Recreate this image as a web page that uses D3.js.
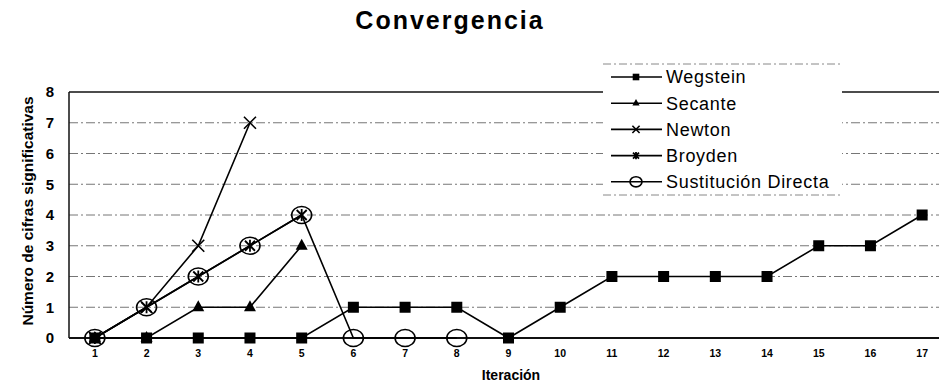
<!DOCTYPE html>
<html>
<head>
<meta charset="utf-8">
<script src="https://cdn.jsdelivr.net/npm/d3@7.9.0/dist/d3.min.js"></script>
<style>
  body { margin: 0; background: #fff; }
  svg { display: block; font-family: "Liberation Sans", Arial, sans-serif; }
</style>
</head>
<body>
<svg id="chart" width="939" height="385"></svg>
<script>
// data
const iteraciones = d3.range(1, 18);
const yTicks = [0, 1, 2, 3, 4, 5, 6, 7, 8];
const wegstein = [0, 0, 0, 0, 0, 1, 1, 1, 0, 1, 2, 2, 2, 2, 3, 3, 4];
const secante = [0, 0, 1, 1, 3];
const newton = [0, 1, 3, 7];
const broyden = [0, 1, 2, 3, 4];
const sustitucion = [0, 1, 2, 3, 4, 0, 0, 0];

const series = [
  { name: 'Wegstein', values: wegstein, marker: 'square' },
  { name: 'Secante', values: secante, marker: 'triangle' },
  { name: 'Newton', values: newton, marker: 'x' },
  { name: 'Broyden', values: broyden, marker: 'star' },
  { name: 'Sustitución Directa', values: sustitucion, marker: 'circle' },
];

const svg = d3.select('#chart');
const plotLeft = 69, plotRight = 948, plotTop = 92, plotBottom = 338;

const x = d3.scaleBand().domain(iteraciones).range([plotLeft, plotRight]);
const y = d3.scaleLinear().domain([0, 8]).range([plotBottom, plotTop]);
const cx = (i) => x(i) + x.bandwidth() / 2;

// gridlines
svg.append('g')
  .selectAll('line')
  .data(yTicks.filter((d) => d > 0 && d < 8))
  .join('line')
  .attr('x1', plotLeft).attr('x2', 939)
  .attr('y1', (d) => y(d)).attr('y2', (d) => y(d))
  .attr('stroke', '#666')
  .attr('stroke-width', 0.9)
  .attr('stroke-dasharray', '9,3,2,3');

// top border, left axis, bottom axis
svg.append('line').attr('x1', plotLeft).attr('x2', 939).attr('y1', y(8)).attr('y2', y(8))
  .attr('stroke', '#111').attr('stroke-width', 1.5);
svg.append('line').attr('x1', plotLeft).attr('x2', plotLeft).attr('y1', y(8)).attr('y2', y(0))
  .attr('stroke', '#111').attr('stroke-width', 1.5);
svg.append('line').attr('x1', plotLeft).attr('x2', 939).attr('y1', y(0)).attr('y2', y(0))
  .attr('stroke', '#111').attr('stroke-width', 2);

// y tick labels
svg.append('g')
  .selectAll('text')
  .data(yTicks)
  .join('text')
  .attr('x', plotLeft - 15)
  .attr('y', (d) => y(d))
  .attr('dy', '0.36em')
  .attr('text-anchor', 'end')
  .attr('font-size', 15)
  .attr('font-weight', 'bold')
  .text((d) => d);

// x tick labels
svg.append('g')
  .selectAll('text')
  .data(iteraciones)
  .join('text')
  .attr('x', (d) => cx(d))
  .attr('y', 357)
  .attr('text-anchor', 'middle')
  .attr('font-size', 10.5)
  .attr('font-weight', 'bold')
  .text((d) => d);

// markers (k scales them down for the legend)
function drawMarker(g, type, px, py, k = 1) {
  if (type === 'square') {
    g.append('rect').attr('x', px - 5.5 * k).attr('y', py - 5.5 * k)
      .attr('width', 11 * k).attr('height', 11 * k)
      .attr('fill', '#000');
  } else if (type === 'triangle') {
    g.append('path').attr('d', `M${px},${py - 7 * k}L${px + 6 * k},${py + 4 * k}L${px - 6 * k},${py + 4 * k}Z`)
      .attr('fill', '#000');
  } else if (type === 'x') {
    const r = 6 * k;
    g.append('path').attr('d', `M${px - r},${py - r}L${px + r},${py + r}M${px + r},${py - r}L${px - r},${py + r}`)
      .attr('stroke', '#000').attr('stroke-width', 1.6);
  } else if (type === 'star') {
    const r = 5 * k;
    g.append('path')
      .attr('d', `M${px - r},${py - r}L${px + r},${py + r}M${px + r},${py - r}L${px - r},${py + r}M${px},${py - r * 1.2}L${px},${py + r * 1.2}`)
      .attr('stroke', '#000').attr('stroke-width', 1.8);
  } else if (type === 'circle') {
    g.append('ellipse').attr('cx', px).attr('cy', py).attr('rx', 10 * k).attr('ry', 8.5 * k)
      .attr('fill', 'none').attr('stroke', '#000').attr('stroke-width', 1.6);
  }
}

const line = d3.line().x((d, i) => cx(iteraciones[i])).y((d) => y(d));

series.forEach((s) => {
  const g = svg.append('g');
  g.append('path')
    .attr('d', line(s.values))
    .attr('fill', 'none')
    .attr('stroke', '#000')
    .attr('stroke-width', 1.6);
  s.values.forEach((v, i) => drawMarker(g, s.marker, cx(iteraciones[i]), y(v)));
});

// legend
const lg = svg.append('g');
lg.append('rect').attr('x', 603).attr('y', 64).attr('width', 239).attr('height', 131).attr('fill', '#fff');
[64, 195].forEach((yy) => {
  lg.append('line').attr('x1', 603).attr('x2', 842).attr('y1', yy).attr('y2', yy)
    .attr('stroke', '#888').attr('stroke-dasharray', '8,3,2,3');
});
series.forEach((s, i) => {
  const ly = 77 + i * 26.2;
  lg.append('line').attr('x1', 611).attr('x2', 662).attr('y1', ly).attr('y2', ly)
    .attr('stroke', '#000').attr('stroke-width', 1.6);
  drawMarker(lg, s.marker, 636, ly, 0.6);
  lg.append('text').attr('x', 666).attr('y', ly).attr('dy', '0.36em')
    .attr('font-size', 18).attr('letter-spacing', 0.7).text(s.name);
});

// titles
svg.append('text').attr('x', 450).attr('y', 29).attr('text-anchor', 'middle')
  .attr('font-size', 25).attr('font-weight', 'bold').attr('letter-spacing', 2)
  .text('Convergencia');
svg.append('text').attr('x', 511).attr('y', 380).attr('text-anchor', 'middle')
  .attr('font-size', 14).attr('font-weight', 'bold').text('Iteración');
svg.append('text')
  .attr('transform', `translate(33,${(plotTop + plotBottom) / 2 - 4}) rotate(-90)`)
  .attr('text-anchor', 'middle')
  .attr('font-size', 15.5).attr('font-weight', 'bold')
  .text('Número de cifras significativas');
</script>
</body>
</html>
